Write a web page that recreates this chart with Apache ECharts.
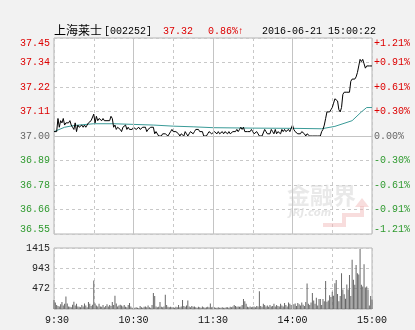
<!DOCTYPE html>
<html><head><meta charset="utf-8">
<script src="https://cdn.jsdelivr.net/npm/echarts@6/dist/echarts.min.js"></script>
<style>html,body{margin:0;padding:0;background:#f2f2f2;}#c{width:415px;height:330px;}</style>
</head><body><div id="c"></div>
<script>
// ---------- header texts ----------
const stockName = '上海莱士';
const stockCode = '[002252]';
const lastPrice = '37.32';
const changePct = '0.86%↑';
const timestamp = '2016-06-21 15:00:22';

// ---------- axis definitions ----------
const prevClose = 37.00;
const priceHalfRange = 0.4477;          // 37.45 - 37.00  (= 1.21%)
const priceTickLabels = ['36.55','36.66','36.78','36.89','37.00','37.11','37.22','37.34','37.45'];
const pctTickLabels = ['-1.21%','-0.91%','-0.61%','-0.30%','0.00%','+0.30%','+0.61%','+0.91%','+1.21%'];
const volMax = 1415;
const volTickLabels = ['','472','943','1415'];
const xLabelTimes = ['9:30','10:30','11:30','14:00','15:00'];

// ---------- minute categories 9:30-11:30, 13:01-15:00 ----------
const categories = [];
function pushRange(h0, m0, h1, m1) {
  let h = h0, m = m0;
  while (h < h1 || (h === h1 && m <= m1)) {
    categories.push(h + ':' + (m < 10 ? '0' + m : m));
    m++; if (m === 60) { m = 0; h++; }
  }
}
pushRange(9, 30, 11, 30);
pushRange(13, 1, 15, 0);

// ---------- series values ----------
const prices = [
 37.02,37.02,37.02,37.08,37.04,37.07,37.06,37.08,37.05,37.06,
 37.06,37.06,37.07,37.05,37.04,37.03,37.06,37.02,37.05,37.04,
 37.04,37.05,37.04,37.05,37.04,37.05,37.06,37.06,37.07,37.07,
 37.10,37.06,37.09,37.07,37.08,37.08,37.07,37.08,37.07,37.07,
 37.07,37.07,37.07,37.09,37.08,37.04,37.05,37.03,37.04,37.04,
 37.03,37.02,37.04,37.04,37.05,37.03,37.04,37.03,37.03,37.03,
 37.04,37.04,37.03,37.03,37.04,37.03,37.03,37.04,37.04,37.04,
 37.02,37.03,37.03,37.04,37.04,37.04,37.01,37.02,37.02,37.00,
 37.00,37.00,37.01,37.01,37.01,37.01,37.00,37.00,37.02,37.03,
 37.02,37.02,37.02,37.02,37.01,37.00,37.01,37.01,37.00,37.02,
 37.01,37.00,37.01,37.02,37.02,37.01,37.02,37.03,37.03,37.03,
 37.02,37.02,37.02,37.00,37.00,37.00,37.01,37.02,37.02,37.01,
 37.01,
 37.02,37.02,37.01,37.02,37.01,37.01,37.02,37.01,37.02,37.02,
 37.01,37.02,37.01,37.01,37.02,37.02,37.02,37.03,37.02,37.03,
 37.04,37.03,37.04,37.02,37.02,37.02,37.02,37.02,37.03,37.02,
 37.01,37.01,37.02,37.01,37.00,37.00,37.00,37.00,37.03,37.02,
 37.01,37.01,37.01,37.03,37.02,37.01,37.03,37.01,37.02,37.02,
 37.01,37.03,37.02,37.03,37.02,37.02,37.03,37.02,37.02,37.05,
 37.03,37.02,37.02,37.01,37.01,37.01,37.02,37.02,37.01,37.00,
 37.01,37.01,37.00,37.00,37.00,37.00,37.00,37.00,37.00,37.00,
 37.00,37.02,37.03,37.05,37.08,37.11,37.11,37.11,37.12,37.13,
 37.15,37.17,37.17,37.16,37.12,37.11,37.13,37.19,37.20,37.20,
 37.20,37.20,37.20,37.25,37.26,37.26,37.26,37.27,37.29,37.32,
 37.35,37.34,37.35,37.33,37.31,37.32,37.32,37.32,37.32,37.32
];
const avgIdx = [0, 8, 15, 30, 45, 60, 75, 90, 105, 120, 150, 180, 202, 212, 225, 232, 236, 240];
const avgVal = [37.02, 37.04, 37.048, 37.056, 37.056, 37.053, 37.05, 37.045, 37.042, 37.038, 37.036, 37.035, 37.033, 37.044, 37.07, 37.11, 37.13, 37.13];
const volumes = [
 210,150,90,70,60,110,160,80,120,290,
 130,60,50,40,100,170,80,120,60,50,
 40,90,60,130,80,40,160,120,70,100,
 660,130,80,60,120,60,50,90,40,70,
 110,60,90,70,160,90,310,130,60,80,
 100,80,60,90,50,40,90,140,60,30,
 40,30,40,30,20,70,40,30,50,60,
 40,80,40,30,90,370,300,60,40,50,
 160,50,40,60,330,90,50,40,50,40,
 40,30,50,40,90,40,60,210,70,50,
 80,200,60,40,70,50,60,40,30,50,
 40,30,60,40,30,40,50,40,130,40,
 50,
 40,30,30,40,30,30,40,30,30,40,
 40,30,50,40,60,90,70,50,60,50,
 60,90,230,180,120,50,40,60,40,50,
 60,40,70,60,410,70,50,120,90,60,
 80,50,90,60,70,120,60,90,70,60,
 120,80,60,140,90,60,150,120,90,60,
 110,130,70,140,110,80,150,100,70,160,
 590,120,90,150,370,200,120,260,80,230,
 230,90,230,180,650,170,200,320,280,400,
 310,600,670,350,180,300,830,450,340,240,
 570,450,790,300,1140,680,560,1020,830,800,
 1390,560,520,1040,500,520,450,80,300,220
];

// ---------- styles ----------
const RED = '#dd0000', GREEN = '#2f9a2f', GREY = '#666666';
const MONO = 'Liberation Mono';
const CJK = 'Noto Sans CJK SC';
const dashed = { color: '#c8c8c8', type: [3, 3], width: 1 };
const solid = { color: '#c4c4c4', type: 'solid', width: 1 };
const priceInterval = priceHalfRange / 4;
function tickIndex(v, min, step) { return Math.round((v - min) / step); }
function signColor(v) { return v > 1e-9 ? RED : (v < -1e-9 ? GREEN : GREY); }

const priceDev = prices.map(p => +(p - prevClose).toFixed(4));
const avgData = avgIdx.map((ix, k) => [ix, +(avgVal[k] - prevClose).toFixed(4)]);

const chart = echarts.init(document.getElementById('c'), null, { renderer: 'canvas' });
chart.setOption({
  animation: false,
  backgroundColor: '#f2f2f2',
  textStyle: { fontFamily: MONO },
  grid: [
    { left: 54, right: 43, top: 38, height: 196, show: true, backgroundColor: '#ffffff', borderColor: '#b4b4b4', borderWidth: 1 },
    { left: 54, right: 43, top: 248, height: 61, show: true, backgroundColor: '#ffffff', borderColor: '#b4b4b4', borderWidth: 1 }
  ],
  xAxis: [
    { type: 'category', gridIndex: 0, data: categories, boundaryGap: false,
      axisLine: { show: false }, axisTick: { show: false }, axisLabel: { show: false },
      splitLine: { show: true, interval: (i) => i % 30 === 0, lineStyle: dashed } },
    { type: 'category', gridIndex: 1, data: categories, boundaryGap: false,
      axisLine: { show: false }, axisTick: { show: false },
      axisLabel: { show: true, interval: (i, v) => xLabelTimes.indexOf(v) >= 0,
        formatter: (v) => (v.length < 5 ? ' ' + v : v),
        color: '#111', fontFamily: MONO, fontSize: 10, margin: 6 },
      splitLine: { show: true, interval: (i) => i % 30 === 0, lineStyle: dashed } }
  ],
  yAxis: [
    { type: 'value', gridIndex: 0, min: -priceHalfRange, max: priceHalfRange, interval: priceInterval,
      axisLine: { show: false }, axisTick: { show: false },
      axisLabel: { show: true, fontFamily: MONO, fontSize: 10, margin: 4,
        verticalAlignMinLabel: 'bottom', verticalAlignMaxLabel: 'top',
        formatter: (v) => priceTickLabels[tickIndex(v, -priceHalfRange, priceInterval)] || '',
        color: (v) => signColor(v) },
      splitLine: { show: true, lineStyle: dashed } },
    { type: 'value', gridIndex: 0, position: 'right', min: -priceHalfRange, max: priceHalfRange, interval: priceInterval,
      axisLine: { show: false }, axisTick: { show: false },
      axisLabel: { show: true, fontFamily: MONO, fontSize: 10, margin: 2,
        verticalAlignMinLabel: 'bottom', verticalAlignMaxLabel: 'top',
        formatter: (v) => pctTickLabels[tickIndex(v, -priceHalfRange, priceInterval)] || '',
        color: (v) => signColor(v) },
      splitLine: { show: false } },
    { type: 'value', gridIndex: 1, min: 0, max: volMax, interval: volMax / 3,
      axisLine: { show: false }, axisTick: { show: false },
      axisLabel: { show: true, fontFamily: MONO, fontSize: 10, margin: 4, color: '#222',
        formatter: (v) => volTickLabels[tickIndex(v, 0, volMax / 3)] || '' },
      splitLine: { show: true, lineStyle: dashed } }
  ],
  graphic: [
    { type: 'text', left: 54, top: 24, style: { text: stockName, font: '12px "' + CJK + '"', fill: '#000' } },
    { type: 'text', left: 104, top: 26, style: { text: stockCode, font: '10px "' + MONO + '"', fill: '#000' } },
    { type: 'text', left: 163, top: 26, style: { text: lastPrice, font: '10px "' + MONO + '"', fill: RED } },
    { type: 'text', left: 208, top: 26, style: { text: changePct, font: '10px "' + MONO + '"', fill: RED } },
    { type: 'text', left: 262, top: 26, style: { text: timestamp, font: '10px "' + MONO + '"', fill: '#000' } },
    // watermark
    { type: 'text', left: 287, top: 184, z: 1, silent: true,
      style: { text: '金融界', font: 'bold 23px "' + CJK + '"', fill: 'rgba(215,215,215,0.55)' } },
    { type: 'text', left: 289, top: 208, z: 1, silent: true,
      style: { text: 'JRJ.com', font: 'italic bold 10px "DejaVu Sans"', fill: 'rgba(215,215,215,0.6)' } },
    { type: 'polyline', z: 1, silent: true,
      shape: { points: [[323, 225], [344, 225], [344, 215], [362, 215], [362, 206]] },
      style: { stroke: 'rgba(240,180,180,0.45)', lineWidth: 4, fill: null } },
    { type: 'polygon', z: 1, silent: true,
      shape: { points: [[355, 207], [362, 198], [369, 207]] },
      style: { fill: 'rgba(240,180,180,0.45)' } }
  ],
  series: [
    { type: 'line', name: 'avg', xAxisIndex: 0, yAxisIndex: 0, data: avgData, showSymbol: false,
      lineStyle: { color: '#3a9b98', width: 1 }, z: 3,
      markLine: { silent: true, symbol: 'none', label: { show: false }, animation: false,
        lineStyle: solid,
        data: [{ xAxis: '10:30' }, { xAxis: '11:30' }, { xAxis: '14:00' }, { yAxis: 0 }] } },
    { type: 'line', name: 'price', xAxisIndex: 0, yAxisIndex: 0, data: priceDev, showSymbol: false,
      lineStyle: { color: '#000000', width: 1 }, z: 4 },
    { type: 'bar', name: 'vol', xAxisIndex: 1, yAxisIndex: 2, data: volumes, barWidth: 1,
      itemStyle: { color: '#676767' }, z: 3,
      markLine: { silent: true, symbol: 'none', label: { show: false }, animation: false,
        lineStyle: solid,
        data: [{ xAxis: '10:30' }, { xAxis: '11:30' }, { xAxis: '14:00' }] } }
  ]
});
</script></body></html>
